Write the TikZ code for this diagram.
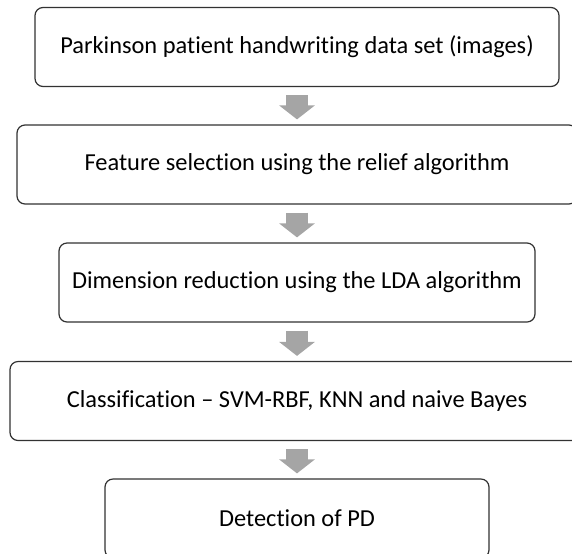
\documentclass[tikz,border=0pt]{standalone}
\usepackage{fontspec}
\setmainfont{Carlito}[Ligatures=NoCommon]
\usetikzlibrary{arrows.meta,positioning}
\definecolor{edge}{RGB}{50,50,50}
\definecolor{stone}{RGB}{165,165,165}
\tikzset{
  stage/.style={draw=edge,line width=0.6pt,rounded corners=4pt,fill=white,
    minimum height=39.5pt,minimum width=#1,align=center,
    font=\fontsize{12.2}{14}\selectfont},
  stage/.default=240pt,
  flow/.style={draw=stone,line width=11pt,shorten <=4pt,shorten >=2.5pt,
    -{Triangle[length=7pt,width=17.5pt]}},
}
\begin{document}
\begin{tikzpicture}[x=0.5pt,y=-0.5pt]
        \useasboundingbox (0,0) rectangle (572,553);
        \clip (0,0) rectangle (572,553);
        \node[stage=262pt] (data) at (297,47) {Parkinson patient handwriting data set (images)};
        \node[stage=280pt] (relief) at (297,164.5) {Feature selection using the relief algorithm};
        \node[stage=238pt] (lda) at (297,282.5) {Dimension reduction using the LDA algorithm};
        \node[stage=287pt] (classify) at (297,401) {Classification -- SVM-RBF, KNN and naive Bayes};
        \node[stage=192pt] (detect) at (297,518.5) {Detection of PD};
        \draw[flow] (data) -- (relief);
        \draw[flow] (relief) -- (lda);
        \draw[flow] (lda) -- (classify);
        \draw[flow] (classify) -- (detect);
      \end{tikzpicture}
\end{document}
